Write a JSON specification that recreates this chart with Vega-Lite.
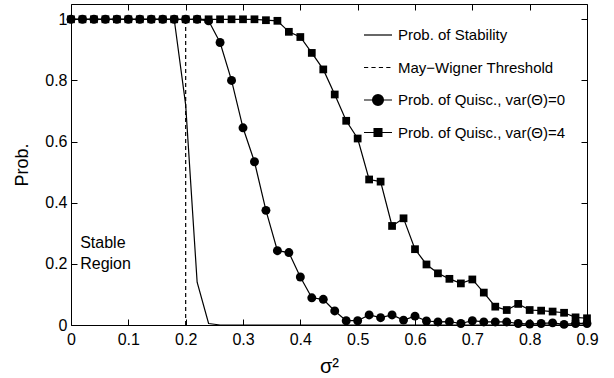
{
  "$schema": "https://vega.github.io/schema/vega-lite/v6.json",
  "width": 516,
  "height": 321,
  "autosize": "none",
  "padding": {"left": 71, "top": 4, "right": 27, "bottom": 53},
  "background": "white",
  "config": {
    "font": "Liberation Sans",
    "view": {"stroke": "black", "strokeWidth": 1},
    "axis": {
      "domain": false,
      "grid": false,
      "tickColor": "black",
      "tickWidth": 1,
      "labelColor": "black",
      "titleColor": "black",
      "labelFont": "Liberation Sans",
      "titleFont": "Liberation Sans",
      "labelFontSize": 16,
      "titleFontWeight": "normal",
      "labelFlush": false,
      "labelOverlap": false,
      "labelBound": false
    }
  },
  "datasets": {
    "main": [
      {"x": 0.00, "stab": 1, "q0": 1, "q4": 1},
      {"x": 0.02, "stab": 1, "q0": 1, "q4": 1},
      {"x": 0.04, "stab": 1, "q0": 1, "q4": 1},
      {"x": 0.06, "stab": 1, "q0": 1, "q4": 1},
      {"x": 0.08, "stab": 1, "q0": 1, "q4": 1},
      {"x": 0.10, "stab": 1, "q0": 1, "q4": 1},
      {"x": 0.12, "stab": 1, "q0": 1, "q4": 1},
      {"x": 0.14, "stab": 1, "q0": 1, "q4": 1},
      {"x": 0.16, "stab": 1, "q0": 1, "q4": 1},
      {"x": 0.18, "stab": 1, "q0": 1, "q4": 1},
      {"x": 0.20, "stab": 0.72, "q0": 1, "q4": 1},
      {"x": 0.22, "stab": 0.14, "q0": 1, "q4": 1},
      {"x": 0.24, "stab": 0.005, "q0": 0.995, "q4": 1},
      {"x": 0.26, "stab": 0, "q0": 0.924, "q4": 1},
      {"x": 0.28, "stab": 0, "q0": 0.80, "q4": 1},
      {"x": 0.30, "stab": 0, "q0": 0.645, "q4": 1},
      {"x": 0.32, "stab": 0, "q0": 0.534, "q4": 1},
      {"x": 0.34, "stab": 0, "q0": 0.375, "q4": 0.997},
      {"x": 0.36, "stab": 0, "q0": 0.243, "q4": 0.995},
      {"x": 0.38, "stab": 0, "q0": 0.237, "q4": 0.959},
      {"x": 0.40, "stab": 0, "q0": 0.157, "q4": 0.942},
      {"x": 0.42, "stab": 0, "q0": 0.089, "q4": 0.89},
      {"x": 0.44, "stab": 0, "q0": 0.084, "q4": 0.836},
      {"x": 0.46, "stab": 0, "q0": 0.046, "q4": 0.754},
      {"x": 0.48, "stab": 0, "q0": 0.014, "q4": 0.668},
      {"x": 0.50, "stab": 0, "q0": 0.014, "q4": 0.61},
      {"x": 0.52, "stab": 0, "q0": 0.033, "q4": 0.476},
      {"x": 0.54, "stab": 0, "q0": 0.024, "q4": 0.469},
      {"x": 0.56, "stab": 0, "q0": 0.033, "q4": 0.324},
      {"x": 0.58, "stab": 0, "q0": 0.016, "q4": 0.349},
      {"x": 0.60, "stab": 0, "q0": 0.029, "q4": 0.248},
      {"x": 0.62, "stab": 0, "q0": 0.013, "q4": 0.198},
      {"x": 0.64, "stab": 0, "q0": 0.010, "q4": 0.169},
      {"x": 0.66, "stab": 0, "q0": 0.011, "q4": 0.151},
      {"x": 0.68, "stab": 0, "q0": 0.005, "q4": 0.136},
      {"x": 0.70, "stab": 0, "q0": 0.014, "q4": 0.149},
      {"x": 0.72, "stab": 0, "q0": 0.010, "q4": 0.106},
      {"x": 0.74, "stab": 0, "q0": 0.010, "q4": 0.06},
      {"x": 0.76, "stab": 0, "q0": 0.010, "q4": 0.049},
      {"x": 0.78, "stab": 0, "q0": 0.005, "q4": 0.069},
      {"x": 0.80, "stab": 0, "q0": 0.003, "q4": 0.049},
      {"x": 0.82, "stab": 0, "q0": 0.005, "q4": 0.047},
      {"x": 0.84, "stab": 0, "q0": 0.007, "q4": 0.044},
      {"x": 0.86, "stab": 0, "q0": 0.002, "q4": 0.04},
      {"x": 0.88, "stab": 0, "q0": 0.005, "q4": 0.025},
      {"x": 0.90, "stab": 0, "q0": 0.005, "q4": 0.022}
    ],
    "threshold": [{"x": 0.2, "p": 0, "p2": 1}],
    "notes": [
      {"label": "Stable", "x": 0.016, "p": 0.268},
      {"label": "Region", "x": 0.016, "p": 0.199}
    ],
    "legendItems": [
      {"series": "Prob. of Stability"},
      {"series": "May−Wigner Threshold"},
      {"series": "Prob. of Quisc., var(Θ)=0"},
      {"series": "Prob. of Quisc., var(Θ)=4"}
    ]
  },
  "layer": [
    {
      "data": {"name": "main"},
      "mark": {"type": "line", "color": "black", "strokeWidth": 1.2},
      "encoding": {
        "x": {"field": "x", "type": "quantitative", "scale": {"domain": [0, 0.9], "nice": false, "zero": false},
          "axis": {"orient": "bottom", "values": [0, 0.1, 0.2, 0.3, 0.4, 0.5, 0.6, 0.7, 0.8, 0.9], "format": "~g", "tickSize": -6, "labelPadding": 12, "title": "σ²", "titleFontSize": 20, "titlePadding": 9}},
        "y": {"field": "q4", "type": "quantitative", "scale": {"domain": [0, 1.05], "nice": false, "zero": false},
          "axis": {"orient": "left", "values": [0, 0.2, 0.4, 0.6, 0.8, 1], "format": "~g", "tickSize": -6, "labelPadding": 10, "title": "Prob.", "titleFontSize": 18, "titlePadding": 13}}
      }
    },
    {
      "data": {"name": "main"},
      "mark": {"type": "square", "color": "black", "filled": true, "size": 60, "opacity": 1},
      "encoding": {
        "x": {"field": "x", "type": "quantitative", "scale": {"domain": [0, 0.9], "nice": false, "zero": false}, "axis": null},
        "y": {"field": "q4", "type": "quantitative", "scale": {"domain": [0, 1.05], "nice": false, "zero": false}, "axis": null}
      }
    },
    {
      "data": {"name": "main"},
      "mark": {"type": "line", "color": "black", "strokeWidth": 1.2},
      "encoding": {
        "x": {"field": "x", "type": "quantitative", "scale": {"domain": [0, 0.9], "nice": false, "zero": false}, "axis": null},
        "y": {"field": "q0", "type": "quantitative", "scale": {"domain": [0, 1.05], "nice": false, "zero": false}, "axis": null}
      }
    },
    {
      "data": {"name": "main"},
      "mark": {"type": "circle", "color": "black", "size": 80, "opacity": 1},
      "encoding": {
        "x": {"field": "x", "type": "quantitative", "scale": {"domain": [0, 0.9], "nice": false, "zero": false}, "axis": null},
        "y": {"field": "q0", "type": "quantitative", "scale": {"domain": [0, 1.05], "nice": false, "zero": false}, "axis": null}
      }
    },
    {
      "data": {"name": "main"},
      "mark": {"type": "line", "color": "black", "strokeWidth": 1.2},
      "encoding": {
        "x": {"field": "x", "type": "quantitative", "scale": {"domain": [0, 0.9], "nice": false, "zero": false}, "axis": null},
        "y": {"field": "stab", "type": "quantitative", "scale": {"domain": [0, 1.05], "nice": false, "zero": false}, "axis": null}
      }
    },
    {
      "data": {"name": "threshold"},
      "mark": {"type": "rule", "color": "black", "strokeWidth": 1.2, "strokeDash": [4, 3]},
      "encoding": {
        "x": {"field": "x", "type": "quantitative", "scale": {"domain": [0, 0.9], "nice": false, "zero": false},
          "axis": {"orient": "top", "values": [0, 0.1, 0.2, 0.3, 0.4, 0.5, 0.6, 0.7, 0.8, 0.9], "tickSize": -6, "labels": false, "title": null}},
        "y": {"field": "p", "type": "quantitative", "scale": {"domain": [0, 1.05], "nice": false, "zero": false},
          "axis": {"orient": "right", "values": [0, 0.2, 0.4, 0.6, 0.8, 1], "tickSize": -6, "labels": false, "title": null}},
        "y2": {"field": "p2"}
      }
    },
    {
      "data": {"name": "notes"},
      "mark": {"type": "text", "align": "left", "baseline": "middle", "fontSize": 16, "font": "Liberation Sans", "color": "black"},
      "encoding": {
        "x": {"field": "x", "type": "quantitative", "scale": {"domain": [0, 0.9], "nice": false, "zero": false}, "axis": null},
        "y": {"field": "p", "type": "quantitative", "scale": {"domain": [0, 1.05], "nice": false, "zero": false}, "axis": null},
        "text": {"field": "label"}
      }
    },
    {
      "data": {"name": "legendItems"},
      "transform": [{"filter": "datum.series == 'none'"}],
      "mark": {"type": "point", "filled": false, "color": "black", "strokeWidth": 1.2},
      "encoding": {
        "shape": {
          "field": "series",
          "type": "nominal",
          "scale": {
            "domain": ["Prob. of Stability", "May−Wigner Threshold", "Prob. of Quisc., var(Θ)=0", "Prob. of Quisc., var(Θ)=4"],
            "range": [
              "M-1,0H1",
              "M-1,0H-0.7M-0.47,0H-0.17M0.06,0H0.36M0.59,0H0.89",
              "M-1,0H1M0.39,0A0.39,0.39 0 1,1 -0.39,0A0.39,0.39 0 1,1 0.39,0ZM0.32,0A0.32,0.32 0 1,1 -0.32,0A0.32,0.32 0 1,1 0.32,0ZM0.25,0A0.25,0.25 0 1,1 -0.25,0A0.25,0.25 0 1,1 0.25,0ZM0.18,0A0.18,0.18 0 1,1 -0.18,0A0.18,0.18 0 1,1 0.18,0ZM0.11,0A0.11,0.11 0 1,1 -0.11,0A0.11,0.11 0 1,1 0.11,0ZM0.04,0A0.04,0.04 0 1,1 -0.04,0A0.04,0.04 0 1,1 0.04,0Z",
              "M-1,0H1M-0.28,-0.28H0.28V0.28H-0.28ZM-0.21,-0.21H0.21V0.21H-0.21ZM-0.14,-0.14H0.14V0.14H-0.14ZM-0.07,-0.07H0.07V0.07H-0.07Z"
            ]
          },
          "legend": {
            "orient": "none",
            "legendX": 292,
            "legendY": 16,
            "title": null,
            "padding": 0,
            "symbolSize": 784,
            "symbolStrokeColor": "black",
            "symbolStrokeWidth": 1.2,
            "symbolOpacity": 1,
            "labelFont": "Liberation Sans",
            "labelFontSize": 15,
            "labelColor": "black",
            "labelLimit": 400,
            "labelOffset": 5,
            "rowPadding": 9.5
          }
        }
      }
    }
  ],
  "resolve": {"axis": {"x": "independent", "y": "independent"}}
}
